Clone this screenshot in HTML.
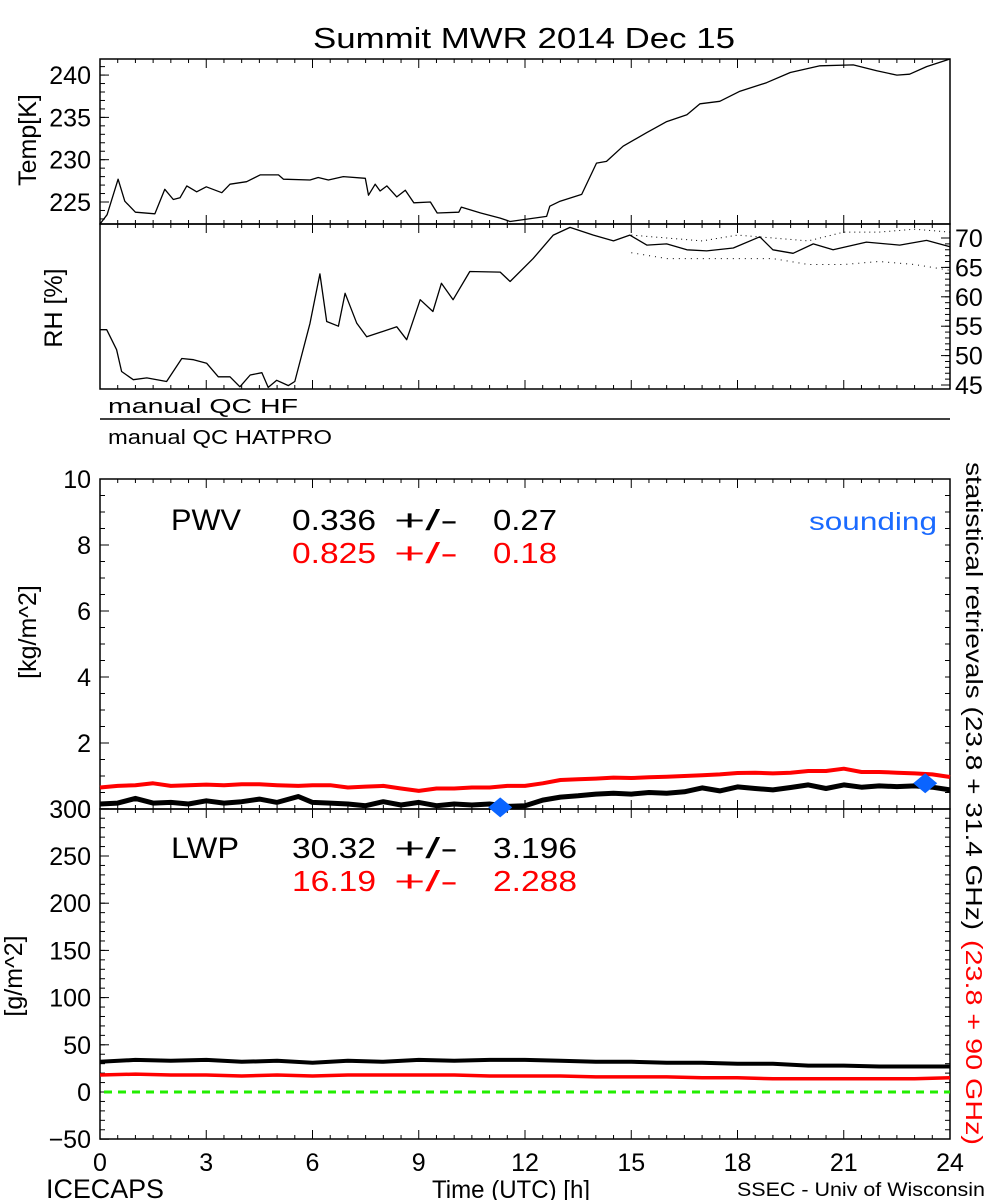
<!DOCTYPE html>
<html><head><meta charset="utf-8"><style>
html,body{margin:0;padding:0;background:#fff}
svg{display:block;font-family:"Liberation Sans",sans-serif}
</style></head><body>
<svg id="chart" width="1000" height="1200" viewBox="0 0 1000 1200">
<g id="g"></g>
<g font-family="Liberation Sans, sans-serif">
<text x="313" y="48" font-size="29" textLength="422" lengthAdjust="spacingAndGlyphs">Summit MWR 2014 Dec 15</text>
<text transform="translate(36,140) rotate(-90)" font-size="25" text-anchor="middle">Temp[K]</text>
<text transform="translate(62,308) rotate(-90)" font-size="25" text-anchor="middle">RH [%]</text>
<text x="108" y="413" font-size="20" textLength="190" lengthAdjust="spacingAndGlyphs">manual QC HF</text>
<text x="108" y="444" font-size="20" textLength="224" lengthAdjust="spacingAndGlyphs">manual QC HATPRO</text>
<text transform="translate(36,632) rotate(-90)" font-size="25" text-anchor="middle">[kg/m^2]</text>
<text transform="translate(22,976) rotate(-90)" font-size="25" text-anchor="middle">[g/m^2]</text>
<text x="171" y="530" font-size="30" textLength="70" lengthAdjust="spacingAndGlyphs">PWV</text>
<text x="292" y="530" font-size="29" textLength="84" lengthAdjust="spacingAndGlyphs">0.336</text>
<text x="394" y="530" font-size="29" textLength="64" lengthAdjust="spacingAndGlyphs">+/-</text>
<text x="493" y="530" font-size="29" textLength="64" lengthAdjust="spacingAndGlyphs">0.27</text>
<text x="292" y="563" font-size="29" fill="#ff0000" textLength="84" lengthAdjust="spacingAndGlyphs">0.825</text>
<text x="394" y="563" font-size="29" fill="#ff0000" textLength="64" lengthAdjust="spacingAndGlyphs">+/-</text>
<text x="493" y="563" font-size="29" fill="#ff0000" textLength="64" lengthAdjust="spacingAndGlyphs">0.18</text>
<text x="809" y="530" font-size="25" fill="#1a6aff" textLength="128" lengthAdjust="spacingAndGlyphs">sounding</text>
<text x="171" y="858" font-size="30" textLength="68" lengthAdjust="spacingAndGlyphs">LWP</text>
<text x="292" y="858" font-size="29" textLength="84" lengthAdjust="spacingAndGlyphs">30.32</text>
<text x="394" y="858" font-size="29" textLength="64" lengthAdjust="spacingAndGlyphs">+/-</text>
<text x="493" y="858" font-size="29" textLength="84" lengthAdjust="spacingAndGlyphs">3.196</text>
<text x="292" y="891" font-size="29" fill="#ff0000" textLength="84" lengthAdjust="spacingAndGlyphs">16.19</text>
<text x="394" y="891" font-size="29" fill="#ff0000" textLength="64" lengthAdjust="spacingAndGlyphs">+/-</text>
<text x="493" y="891" font-size="29" fill="#ff0000" textLength="84" lengthAdjust="spacingAndGlyphs">2.288</text>
<text transform="translate(966,462) rotate(90)" font-size="23" textLength="468" lengthAdjust="spacingAndGlyphs">statistical retrievals (23.8 + 31.4 GHz)</text>
<text transform="translate(966,940) rotate(90)" font-size="23" fill="#ff0000" textLength="205" lengthAdjust="spacingAndGlyphs">(23.8 + 90 GHz)</text>
<text x="46" y="1198" font-size="27" textLength="118" lengthAdjust="spacingAndGlyphs">ICECAPS</text>
<text x="432" y="1198" font-size="25" textLength="158" lengthAdjust="spacingAndGlyphs">Time (UTC) [h]</text>
<text x="737" y="1196" font-size="19" textLength="248" lengthAdjust="spacingAndGlyphs">SSEC - Univ of Wisconsin</text>
</g>
</svg>
<script>
const hours=[0,3,6,9,12,15,18,21,24];
const tempTicks=[225,230,235,240];
const rhTicks=[45,50,55,60,65,70];
const pwvTicks=[0,2,4,6,8,10];
const lwpTicks=[-50,0,50,100,150,200,250,300];
const tempT=[0,0.2,0.51,0.7,1.0,1.55,1.83,2.07,2.26,2.45,2.73,3.0,3.44,3.67,4.14,4.52,5.04,5.18,5.93,6.16,6.45,6.87,7.49,7.58,7.77,7.91,8.1,8.38,8.62,8.86,9.33,9.52,10.13,10.2,10.75,11.3,11.58,12.61,12.7,12.99,13.6,14.02,14.3,14.77,15.44,16.0,16.57,16.94,17.5,18.07,18.82,19.49,20.33,21.27,21.93,22.5,22.86,23.34,24];
const tempV=[222.4,223.5,227.7,225.1,223.8,223.6,226.5,225.3,225.5,226.9,226.2,226.8,226.1,227.1,227.4,228.2,228.2,227.7,227.6,227.9,227.6,228.0,227.8,225.8,227.1,226.3,226.9,225.6,226.4,224.9,225.0,223.7,223.8,224.4,223.7,223.1,222.7,223.3,224.5,225.1,225.9,229.6,229.8,231.6,233.2,234.5,235.3,236.6,236.9,238.1,239.1,240.3,241.1,241.2,240.5,240.0,240.1,241.0,241.9];
const rhT=[0,0.19,0.47,0.61,0.94,1.32,1.88,2.31,2.64,3.01,3.34,3.67,3.95,4.24,4.57,4.75,4.99,5.32,5.5,5.93,6.21,6.4,6.73,6.92,7.25,7.53,8.38,8.66,9.04,9.4,9.64,9.97,10.44,11.3,11.58,12.23,12.8,13.27,13.93,14.5,14.96,15.44,16.0,16.57,17.13,17.88,18.63,19.0,19.57,20.14,20.7,21.64,22.58,23.34,24];
const rhV=[54.4,54.4,51,47.3,45.9,46.2,45.6,49.5,49.3,48.7,46.4,46.4,44.7,46.7,47.1,44.6,45.8,44.9,45.6,55.5,63.9,55.8,55,60.6,55.5,53.2,54.9,52.7,59.5,57.5,62.3,59.5,64.3,64.2,62.6,66.5,70.5,71.8,70.5,69.5,70.5,68.8,69,68,67.8,68.3,70.2,68,67.4,69,68,69.3,68.8,69.6,68.5];
const rhScatT=[15,16,17,18,19,20,21,22,23,24];
const rhHi=[70.5,70,69.5,70.5,70,69.5,71,71,71.5,71];
const rhLo=[67.5,66.5,66.5,66.5,66.5,65.5,65.5,66,65.5,64.5];
const pwvT=[0,0.5,1,1.5,2,2.5,3,3.5,4,4.5,5,5.6,6,6.5,7,7.5,8,8.5,9,9.5,10,10.5,11,11.5,12,12.5,13,13.5,14,14.5,15,15.5,16,16.5,17,17.5,18,18.5,19,19.5,20,20.5,21,21.5,22,22.5,23,23.5,24];
const pwvBlack=[0.15,0.18,0.32,0.18,0.2,0.15,0.25,0.18,0.22,0.3,0.2,0.38,0.2,0.18,0.15,0.1,0.22,0.12,0.2,0.1,0.15,0.12,0.15,0.08,0.1,0.27,0.36,0.4,0.45,0.48,0.45,0.5,0.48,0.52,0.64,0.55,0.67,0.62,0.58,0.65,0.73,0.62,0.73,0.66,0.7,0.68,0.7,0.66,0.58];
const pwvRed=[0.65,0.7,0.72,0.78,0.7,0.72,0.74,0.72,0.75,0.75,0.72,0.7,0.72,0.72,0.65,0.68,0.7,0.62,0.55,0.62,0.62,0.65,0.65,0.7,0.7,0.78,0.88,0.9,0.92,0.95,0.94,0.96,0.98,1.0,1.02,1.05,1.09,1.1,1.08,1.1,1.15,1.15,1.22,1.12,1.12,1.1,1.08,1.05,0.97];
const lwpT=[0,1,2,3,4,5,6,7,8,9,10,11,12,13,14,15,16,17,18,19,20,21,22,23,24];
const lwpBlack=[32,34,33,34,32,33,31,33,32,34,33,34,34,33,32,32,31,31,30,30,28,28,27,27,27];
const lwpRed=[18,19,18,18,17,18,17,18,18,18,18,17,17,17,16,16,16,15,15,14,14,14,14,14,15];
const soundT=[11.3,23.3];
const soundV=[0.05,0.78];

const L=100,R=950;
const xS=t=>L+(t/24)*(R-L);
const tempY=v=>224-(v-222.4)*(224-59)/(241.9-222.4);
const rhY=v=>385-(v-45)*5.88;
const pwvY=v=>809-v*33;
const lwpY=v=>1092-v*0.944;
const NS='http://www.w3.org/2000/svg';
const g=document.getElementById('g');
function el(tag,attrs,txt){const e=document.createElementNS(NS,tag);for(const k in attrs)e.setAttribute(k,attrs[k]);if(txt!==undefined)e.textContent=txt;g.appendChild(e);return e;}

const panels=[['temp-panel',59,224],['rh-panel',224,389],['pwv-panel',479,809],['lwp-panel',809,1139]];
panels.forEach(p=>{const r=el('rect',{x:L,y:p[1],width:R-L,height:p[2]-p[1],fill:'none',stroke:'#000','stroke-width':1.5});


for(let h=0;h<=24;h+=0.5){const x=xS(h);const maj=(h%3===0);const len=maj?9:4;
const a=el('line',{x1:x,y1:p[2],x2:x,y2:p[2]-len,stroke:'#000','stroke-width':1});


const b=el('line',{x1:x,y1:p[1],x2:x,y2:p[1]+len,stroke:'#000','stroke-width':1});

}
});
const q=el('line',{x1:L,y1:419,x2:R,y2:419,stroke:'#000','stroke-width':1.5});



function yTicks(fy,lo,hi,step,side){for(let v=lo;v<=hi+1e-9;v+=step){const y=fy(v);const x=side==='left'?L:R;const d=side==='left'?5:-5;
const t=el('line',{x1:x,y1:y,x2:x+d,y2:y,stroke:'#000','stroke-width':1});

}}
yTicks(tempY,223,241,1,'left');
yTicks(rhY,45,70,1,'right');
yTicks(pwvY,0.5,9.5,0.5,'left');yTicks(pwvY,0.5,9.5,0.5,'right');
yTicks(lwpY,-40,290,10,'left');yTicks(lwpY,-40,290,10,'right');
[[tempY,tempTicks,'left'],[pwvY,pwvTicks,'left'],[lwpY,lwpTicks,'left'],[rhY,rhTicks,'right']].forEach(a=>{
a[1].forEach(v=>{const y=a[0](v);const x=a[2]==='left'?L:R;const d=a[2]==='left'?9:-9;
const t=el('line',{x1:x,y1:y,x2:x+d,y2:y,stroke:'#000','stroke-width':1});


const lbl=el('text',{x:a[2]==='left'?91:955,y:y+9,'font-size':25,'text-anchor':a[2]==='left'?'end':'start',fill:'#000'},v<0?'\u2212'+(-v):String(v));

});});
hours.forEach(h=>{const t=el('text',{x:xS(h),y:1171,'font-size':25,'text-anchor':'middle'},String(h));

});

function poly(ts,vs,fy,color,w,name,extra){const pts=ts.map((t,i)=>xS(t).toFixed(1)+','+fy(vs[i]).toFixed(1)).join(' ');
const p=el('polyline',Object.assign({points:pts,fill:'none',stroke:color,'stroke-width':w,'stroke-linejoin':'round'},extra||{}));

return p;}
poly(tempT,tempV,tempY,'#000',1.3,'temperature-line');
poly(rhT,rhV,rhY,'#000',1.3,'rh-line');
poly(rhScatT,rhHi,rhY,'#000',1,'rh-scatter-upper',{'stroke-dasharray':'1 4'});
poly(rhScatT,rhLo,rhY,'#000',1,'rh-scatter-lower',{'stroke-dasharray':'1 5'});
poly(pwvT,pwvRed,pwvY,'#ff0000',4,'pwv-red-line');
poly(pwvT,pwvBlack,pwvY,'#000',5,'pwv-black-line');
poly(lwpT,lwpBlack,lwpY,'#000',4,'lwp-black-line');
poly(lwpT,lwpRed,lwpY,'#ff0000',3.5,'lwp-red-line');
const z=el('line',{x1:L+4,y1:lwpY(0),x2:R,y2:lwpY(0),stroke:'#22ee00','stroke-width':3,'stroke-dasharray':'8 6'});


soundT.forEach((t,i)=>{const x=xS(t),y=pwvY(soundV[i]);
const d=el('polygon',{points:`${x-12},${y} ${x},${y-10} ${x+12},${y} ${x},${y+10}`,fill:'#0a64ff'});

});
</script>
</body></html>
